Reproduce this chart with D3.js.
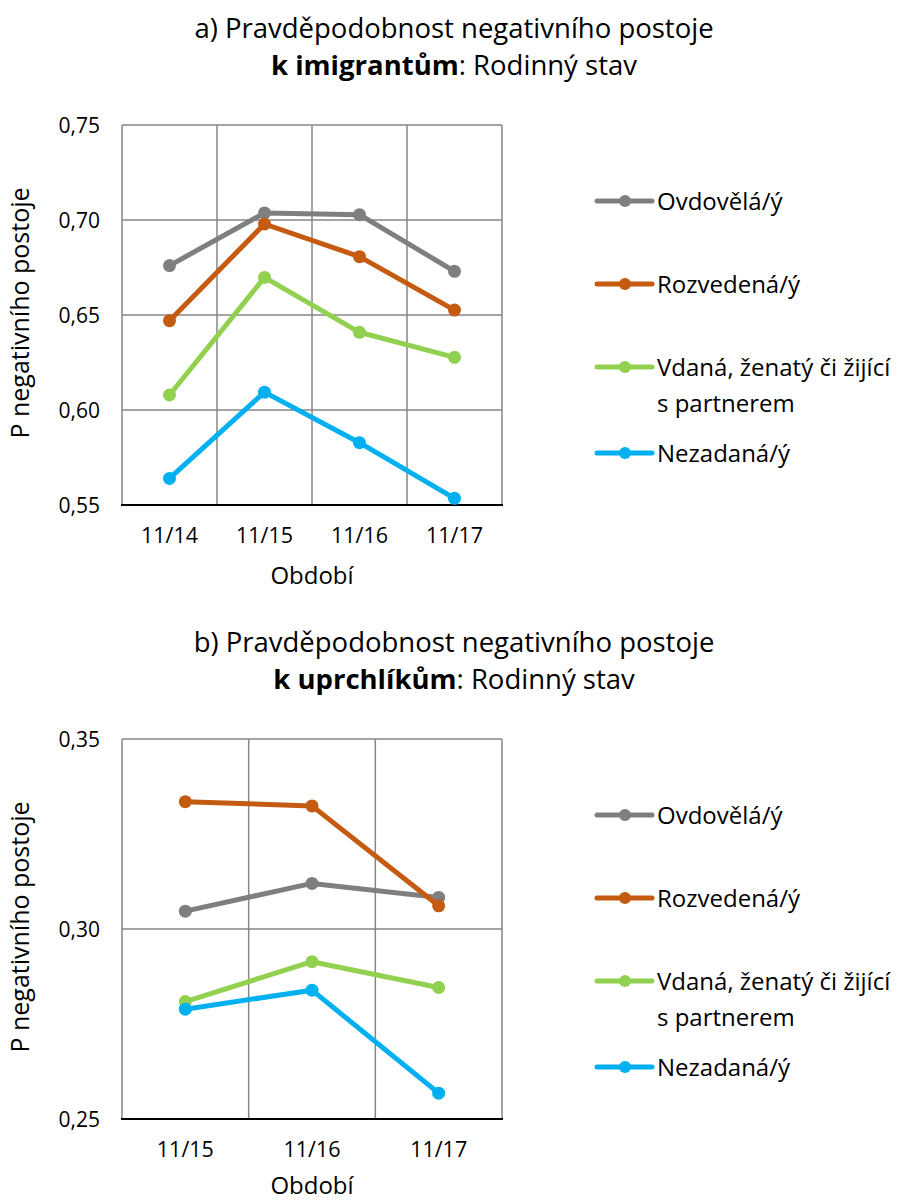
<!DOCTYPE html>
<html>
<head>
<meta charset="utf-8">
<script src="https://cdn.jsdelivr.net/npm/d3@7"></script>
<style>
  body { margin: 0; background: #fff; }
  svg text { font-family: "Open Sans", "Noto Sans", sans-serif; fill: #000; }
</style>
</head>
<body>
<div id="plot"></div>
<script>
// data
var seriesNames = ["Ovdovělá/ý", "Rozvedená/ý", "Vdaná, ženatý či žijící s partnerem", "Nezadaná/ý"];
var seriesColors = ["#7f7f7f", "#c55a11", "#92d050", "#00b0f0"];

var periodsA = ["11/14", "11/15", "11/16", "11/17"];
var widowedA = [0.676, 0.7037, 0.7028, 0.6730];
var divorcedA = [0.647, 0.6979, 0.6807, 0.6526];
var marriedA = [0.6079, 0.6698, 0.6409, 0.6277];
var singleA = [0.5640, 0.6094, 0.5828, 0.5535];
var ticksA = [0.55, 0.60, 0.65, 0.70, 0.75];

var periodsB = ["11/15", "11/16", "11/17"];
var widowedB = [0.3047, 0.3120, 0.3083];
var divorcedB = [0.3335, 0.3324, 0.3061];
var marriedB = [0.2809, 0.2914, 0.2846];
var singleB = [0.2789, 0.2839, 0.2568];
var ticksB = [0.25, 0.30, 0.35];

var width = 899;
var height = 1202;

var svg = d3.select("#plot").
  append("svg").
  attr("width", width).
  attr("height", height);

var fmt = function (v) { return d3.format(".2f")(v).replace(".", ","); };

var drawChart = function (cfg) {
  var g = svg.append("g").attr("transform", "translate(0," + cfg.offset + ")");
  var left = 122, right = 502, top = 125, bottom = 505;

  var x = d3.scaleBand().domain(cfg.periods).range([left, right]);
  var y = d3.scaleLinear().domain(cfg.domain).range([bottom, top]);

  // title
  var title = g.append("text").attr("text-anchor", "middle").attr("font-size", 27.5);
  title.append("tspan").attr("x", 454).attr("y", 38).text(cfg.title1);
  title.append("tspan").attr("x", 454).attr("y", 75).attr("font-weight", "bold").text(cfg.title2b);
  title.append("tspan").text(": Rodinný stav");

  // grid
  g.selectAll(".hgrid").data(cfg.ticks.slice(1)).enter().append("line").
    attr("x1", left).attr("x2", right).
    attr("y1", function (d) { return y(d); }).attr("y2", function (d) { return y(d); }).
    attr("stroke", "#868686").attr("stroke-width", 1.5);

  var vlines = cfg.periods.map(function (p) { return x(p) + x.bandwidth(); });
  vlines.unshift(left);
  g.selectAll(".vgrid").data(vlines).enter().append("line").
    attr("x1", function (d) { return d; }).attr("x2", function (d) { return d; }).
    attr("y1", top).attr("y2", bottom).
    attr("stroke", "#868686").attr("stroke-width", 1.5);

  g.append("line").attr("x1", left - 1).attr("x2", right + 1).
    attr("y1", bottom).attr("y2", bottom).attr("stroke", "#000").attr("stroke-width", 2);

  // tick labels
  g.selectAll(".ytick").data(cfg.ticks).enter().append("text").
    attr("x", 100).attr("y", function (d) { return y(d); }).
    attr("dy", "0.36em").attr("text-anchor", "end").attr("font-size", 21).
    text(fmt);

  g.selectAll(".xtick").data(cfg.periods).enter().append("text").
    attr("x", function (d) { return x(d) + x.bandwidth() / 2; }).attr("y", bottom + 38).
    attr("text-anchor", "middle").attr("font-size", 21.5).
    text(function (d) { return d; });

  g.append("text").attr("x", (left + right) / 2).attr("y", bottom + cfg.xTitleGap).
    attr("text-anchor", "middle").attr("font-size", 24).text("Období");

  g.append("text").attr("transform", "translate(29," + ((top + bottom) / 2 - 2) + ") rotate(-90)").
    attr("text-anchor", "middle").attr("font-size", 25).text("P negativního postoje");

  // series
  var line = d3.line().
    x(function (d, i) { return x(cfg.periods[i]) + x.bandwidth() / 2; }).
    y(function (d) { return y(d); });

  cfg.series.forEach(function (s, k) {
    g.append("path").attr("d", line(s)).attr("fill", "none").
      attr("stroke", seriesColors[k]).attr("stroke-width", 5).attr("stroke-linejoin", "round");
    g.selectAll(".pt" + k).data(s).enter().append("circle").
      attr("cx", function (d, i) { return x(cfg.periods[i]) + x.bandwidth() / 2; }).
      attr("cy", function (d) { return y(d); }).
      attr("r", 6.5).attr("fill", seriesColors[k]);
  });

  // legend
  var legendY = [201, 284, 367, 453];
  seriesNames.forEach(function (name, k) {
    var ly = legendY[k];
    g.append("line").attr("x1", 597).attr("x2", 652).attr("y1", ly).attr("y2", ly).
      attr("stroke", seriesColors[k]).attr("stroke-width", 5).attr("stroke-linecap", "round");
    g.append("circle").attr("cx", 625).attr("cy", ly).attr("r", 6).attr("fill", seriesColors[k]);
    var t = g.append("text").attr("x", 657).attr("y", ly).attr("dy", "0.36em").attr("font-size", 24);
    if (k === 2) {
      t.append("tspan").text("Vdaná, ženatý či žijící");
      t.append("tspan").attr("x", 657).attr("dy", "1.5em").text("s partnerem");
    } else {
      t.text(name);
    }
  });
};

drawChart({
  offset: 0,
  xTitleGap: 79,
  title1: "a) Pravděpodobnost negativního postoje",
  title2b: "k imigrantům",
  periods: periodsA,
  domain: [0.55, 0.75],
  ticks: ticksA,
  series: [widowedA, divorcedA, marriedA, singleA]
});

drawChart({
  offset: 614,
  xTitleGap: 75,
  title1: "b) Pravděpodobnost negativního postoje",
  title2b: "k uprchlíkům",
  periods: periodsB,
  domain: [0.25, 0.35],
  ticks: ticksB,
  series: [widowedB, divorcedB, marriedB, singleB]
});
</script>
</body>
</html>
